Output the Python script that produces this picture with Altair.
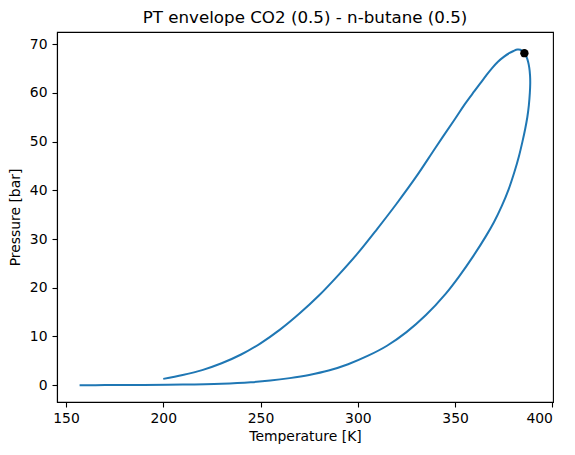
import altair as alt
import pandas as pd

# Upper branch (from 200 K up to the critical point)
upper_T = [200.0, 210.0, 220.0, 230.0, 240.0, 250.0, 260.0, 270.0, 280.0, 290.0,
           300.0, 310.0, 320.0, 330.0, 340.0, 350.0, 355.0, 360.0, 363.0, 366.0,
           369.0, 372.0, 375.0, 378.0, 380.0, 382.0, 383.5, 385.6]
upper_P = [1.3, 2.1, 3.1, 4.5, 6.3, 8.6, 11.4, 14.7, 18.4, 22.6,
           27.1, 32.1, 37.3, 42.8, 48.8, 54.7, 57.7, 60.4, 62.0, 63.6,
           65.1, 66.4, 67.4, 68.2, 68.6, 68.9, 68.85, 68.15]
# Lower branch (from the critical point down to 157 K)
lower_T = [386.7, 387.5, 388.1, 388.5, 388.6, 388.4, 387.9, 387.1, 386.0, 384.6,
           382.8, 380.5, 377.5, 374.0, 370.0, 366.0, 359.5, 352.0, 345.0, 335.0,
           325.0, 315.0, 305.0, 295.0, 285.0, 275.0, 265.0, 255.0, 245.0, 230.0,
           210.0, 190.0, 170.0, 157.0]
lower_P = [67.4, 66.4, 65.2, 63.6, 62.0, 60.0, 57.5, 55.0, 52.6, 50.0,
           47.0, 43.8, 40.2, 36.8, 33.5, 30.7, 26.6, 22.3, 18.7, 14.4,
           10.9, 8.1, 6.0, 4.3, 3.0, 2.1, 1.45, 0.95, 0.6, 0.3,
           0.12, 0.06, 0.02, 0.0]
crit_T = [385.6]
crit_P = [68.15]

x_ticks = [150, 200, 250, 300, 350, 400]
y_ticks = [0, 10, 20, 30, 40, 50, 60, 70]

T = upper_T + lower_T
P = upper_P + lower_P
df = pd.DataFrame({"T": T, "P": P, "i": list(range(len(T)))})
crit = pd.DataFrame({"T": crit_T, "P": crit_P})

xs = alt.Scale(domain=[145.4, 400.3], nice=False, zero=False)
ys = alt.Scale(domain=[-3.45, 72.5], nice=False, zero=False)

line = alt.Chart(df).mark_line(color="#1f77b4", strokeWidth=2, interpolate="catmull-rom").encode(
    x=alt.X("T:Q", scale=xs, axis=alt.Axis(values=x_ticks, title="Temperature [K]")),
    y=alt.Y("P:Q", scale=ys, axis=alt.Axis(values=y_ticks, title="Pressure [bar]")),
    order="i:Q",
)
pt = alt.Chart(crit).mark_circle(color="black", size=70, opacity=1).encode(
    x=alt.X("T:Q", scale=xs),
    y=alt.Y("P:Q", scale=ys),
)

chart = (line + pt).properties(
    width=496,
    height=370,
    title=alt.TitleParams("PT envelope CO2 (0.5) - n-butane (0.5)", fontSize=16.7,
                          font="DejaVu Sans", fontWeight="normal", color="black", offset=5),
    autosize=alt.AutoSizeParams(type="none"),
    padding={"left": 49, "top": 24, "right": 10, "bottom": 45},
).configure_view(
    stroke="black", strokeWidth=1.1
).configure_axis(
    grid=False,
    labelFont="DejaVu Sans", labelFontSize=13.9, labelColor="black",
    titleFont="DejaVu Sans", titleFontSize=13.9, titleColor="black", titleFontWeight="normal",
    tickSize=5, tickColor="black", tickWidth=1.1,
    domainColor="black", domainWidth=1.1,
).configure_axisX(
    labelPadding=4, titlePadding=5,
).configure_axisY(
    labelPadding=5, titlePadding=7,
)

chart.save("out.html", embed_options={"renderer": "svg", "actions": False})
